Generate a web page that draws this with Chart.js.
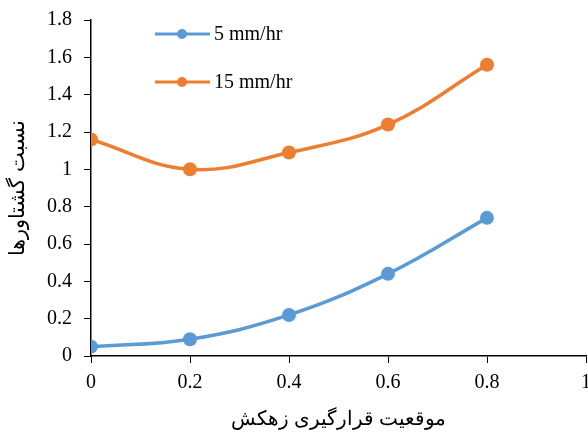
<!DOCTYPE html>
<html>
<head>
<meta charset="utf-8">
<script src="https://cdn.jsdelivr.net/npm/chart.js@4"></script>
<style>
  html, body { margin: 0; padding: 0; background: #fff; }
  #wrap { width: 588px; height: 432px; }
</style>
</head>
<body>
<div id="wrap"><canvas id="chart" width="588" height="432"></canvas></div>
<script>
// drain position (x) and torque ratio for each rain intensity
const positions = [0, 0.2, 0.4, 0.6, 0.8];
const rate5 = [0.05, 0.09, 0.22, 0.44, 0.74];
const rate15 = [1.16, 1.0, 1.09, 1.24, 1.56];
const seriesNames = ['5 mm/hr', '15 mm/hr'];
const xTickLabels = ['0', '0.2', '0.4', '0.6', '0.8', '1'];
const yTickLabels = ['0', '0.2', '0.4', '0.6', '0.8', '1', '1.2', '1.4', '1.6', '1.8'];
const xTitle = 'موقعیت قرارگیری زهکش';
const yTitle = 'نسبت گشتاورها';

const BLUE = '#5B9BD5';
const ORANGE = '#ED7D31';
const FONT = "'Liberation Serif', 'Times New Roman', 'DejaVu Serif', serif";

function toPoints(ys) {
    return positions.map((x, i) => ({x: x, y: ys[i]}));
}

// no automatic padding for the axes, the last x label may run off the edge
function noPadding(scale) {
    scale.paddingLeft = 0;
    scale.paddingRight = 0;
    scale.paddingTop = 0;
    scale.paddingBottom = 0;
}

// legend drawn inside the plot like the original
const insideLegend = {
    id: 'insideLegend',
    afterDraw(chart) {
        const ctx = chart.ctx;
        const rows = [{y: 34, color: BLUE, text: seriesNames[0]},
                      {y: 82, color: ORANGE, text: seriesNames[1]}];
        ctx.save();
        rows.forEach(r => {
            ctx.strokeStyle = r.color;
            ctx.lineWidth = 3;
            ctx.beginPath();
            ctx.moveTo(155, r.y);
            ctx.lineTo(210, r.y);
            ctx.stroke();
            ctx.fillStyle = r.color;
            ctx.beginPath();
            ctx.arc(182, r.y, 5, 0, Math.PI * 2);
            ctx.fill();
            ctx.fillStyle = '#000';
            ctx.font = '20px ' + FONT;
            ctx.textAlign = 'left';
            ctx.textBaseline = 'middle';
            ctx.fillText(r.text, 214, r.y + 1);
        });
        ctx.restore();
    }
};

const config = {
    type: 'scatter',
    data: {
        datasets: [{
            label: seriesNames[0],
            data: toPoints(rate5),
            showLine: true,
            tension: 0.4,
            borderColor: BLUE,
            backgroundColor: BLUE,
            borderWidth: 3.5,
            pointRadius: 7,
            pointBorderWidth: 0
        }, {
            label: seriesNames[1],
            data: toPoints(rate15),
            showLine: true,
            tension: 0.4,
            borderColor: ORANGE,
            backgroundColor: ORANGE,
            borderWidth: 3.5,
            pointRadius: 7,
            pointBorderWidth: 0
        }]
    },
    options: {
        responsive: false,
        animation: false,
        layout: {autoPadding: false, padding: {top: 20, right: 2, left: 0, bottom: 0}},
        plugins: {
            legend: {display: false},
            tooltip: {enabled: false}
        },
        scales: {
            x: {
                type: 'linear',
                min: 0,
                max: 1,
                ticks: {
                    stepSize: 0.2,
                    color: '#000',
                    padding: 8,
                    maxRotation: 0,
                    font: {family: FONT, size: 20},
                    callback: (v, i) => xTickLabels[i]
                },
                grid: {drawOnChartArea: false, drawTicks: true, tickLength: 7, color: '#000'},
                border: {color: '#000', width: 1.5},
                title: {
                    display: true,
                    text: xTitle,
                    color: '#000',
                    font: {family: FONT, size: 20},
                    padding: 0
                },
                afterFit(scale) {
                    scale.height = 76;
                    noPadding(scale);
                }
            },
            y: {
                type: 'linear',
                min: 0,
                max: 1.8,
                ticks: {
                    stepSize: 0.2,
                    color: '#000',
                    padding: 12,
                    font: {family: FONT, size: 20},
                    callback: (v, i) => yTickLabels[i]
                },
                grid: {drawOnChartArea: false, drawTicks: true, tickLength: 7, color: '#000'},
                border: {color: '#000', width: 1.5},
                title: {
                    display: true,
                    text: yTitle,
                    color: '#000',
                    font: {family: FONT, size: 21},
                    padding: {top: 6, bottom: 0}
                },
                afterFit(scale) {
                    scale.width = 91;
                    noPadding(scale);
                }
            }
        }
    },
    plugins: [insideLegend]
};

const torqueChart = new Chart(document.getElementById('chart'), config);
</script>
</body>
</html>
